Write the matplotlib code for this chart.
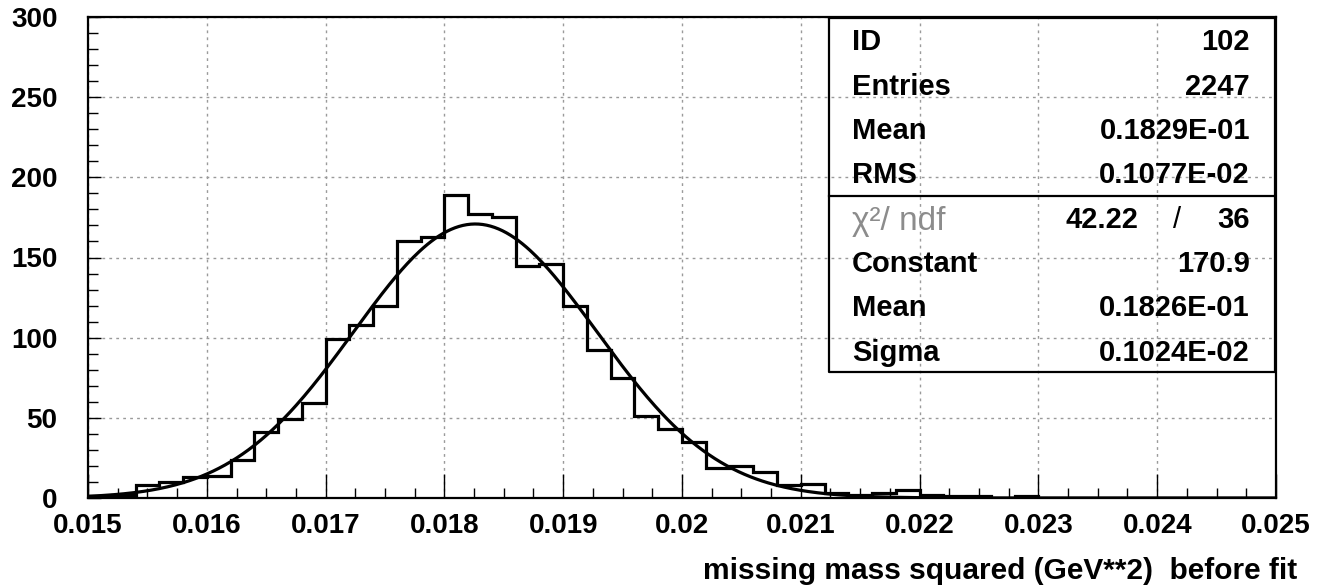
import numpy as np
import matplotlib
matplotlib.use("Agg")
import matplotlib.pyplot as plt
from matplotlib.ticker import MultipleLocator

plt.rcParams["font.family"] = ["Liberation Sans", "DejaVu Sans"]

# histogram: 50 bins of 0.0002 between 0.015 and 0.025
x_min, x_max, n_bins = 0.015, 0.025, 50
counts = [
    1, 2, 8, 10, 13, 14, 24, 41, 49, 59,
    99, 108, 120, 160, 163, 189, 177, 175, 145, 146,
    120, 92, 75, 51, 43, 35, 19, 20, 16, 8,
    9, 3, 2, 3, 5, 2, 1, 1, 0, 1,
    0, 0, 0, 0, 0, 0, 0, 0, 0, 0,
]

# gaussian fit parameters shown in the stats box
fit_const = 170.9
fit_mean = 0.01826
fit_sigma = 0.001024

stat_labels = ["ID", "Entries", "Mean", "RMS"]
stat_values = ["102", "2247", "0.1829E-01", "0.1077E-02"]
chi2_value, ndf_value = "42.22", "36"
fit_labels = ["Constant", "Mean", "Sigma"]
fit_values = ["170.9", "0.1826E-01", "0.1024E-02"]

xlabel = "missing mass squared (GeV**2)  before fit"

FS = 21

W, H = 1322, 586
fig = plt.figure(figsize=(W / 100, H / 100), dpi=100)
ax_l, ax_r, ax_t, ax_b = 88, 1276, 17, 498
ax = fig.add_axes([ax_l / W, 1 - ax_b / H, (ax_r - ax_l) / W, (ax_b - ax_t) / H])

edges = np.linspace(x_min, x_max, n_bins + 1)
ax.stairs(counts, edges, color="black", linewidth=2.3, zorder=3)

xs = np.linspace(x_min, x_max, 600)
ax.plot(xs, fit_const * np.exp(-0.5 * ((xs - fit_mean) / fit_sigma) ** 2),
        color="black", linewidth=2.3, zorder=4)

ax.set_xlim(x_min, x_max)
ax.set_ylim(0, 300)
ax.xaxis.set_major_locator(MultipleLocator(0.001))
ax.xaxis.set_minor_locator(MultipleLocator(0.00025))
ax.yaxis.set_major_locator(MultipleLocator(50))
ax.yaxis.set_minor_locator(MultipleLocator(10))
ax.xaxis.set_major_formatter(plt.FuncFormatter(lambda v, p: f"{v:.3f}".rstrip("0") if v else "0"))

ax.grid(True, which="major", color="#9a9a9a", linestyle=(0, (2, 3)), linewidth=1.0)
ax.set_axisbelow(True)
ax.tick_params(axis="both", which="both", direction="in", top=False, right=False,
               colors="black", labelsize=20)
ax.tick_params(axis="x", which="major", length=17, width=1.0, pad=11)
ax.tick_params(axis="x", which="minor", length=7, width=1.0)
ax.tick_params(axis="y", which="major", length=9, width=1.0, pad=22)
ax.tick_params(axis="y", which="minor", length=7, width=1.0)
for lab in ax.get_xticklabels() + ax.get_yticklabels():
    lab.set_fontweight("bold")
for sp in ax.spines.values():
    sp.set_linewidth(1.6)

fig.text(1297 / W, 1 - 579 / H, xlabel, ha="right", va="baseline",
         fontsize=21.5, fontweight="bold")

# stats box (pixel coords converted to axes fraction)
def fx(px):
    return (px - ax_l) / (ax_r - ax_l)

def fy(py):
    return (ax_b - py) / (ax_b - ax_t)

box_l, box_r, box_t, box_b, box_mid = 829, 1275, 18, 372, 196
ax.plot([fx(box_l), fx(box_r), fx(box_r), fx(box_l), fx(box_l)],
        [fy(box_t), fy(box_t), fy(box_b), fy(box_b), fy(box_t)],
        transform=ax.transAxes, color="black", linewidth=1.6, clip_on=False, zorder=5)
ax.plot([fx(box_l), fx(box_r)], [fy(box_mid), fy(box_mid)],
        transform=ax.transAxes, color="black", linewidth=1.6, clip_on=False, zorder=5)

row0, row_step = 50.5, 44.3
lab_x, val_x = 852, 1250


def put(px, py, s, ha="left", **kw):
    ax.text(fx(px), fy(py), s, transform=ax.transAxes, ha=ha, va="baseline",
            fontsize=kw.pop("fontsize", FS), fontweight=kw.pop("fontweight", "bold"), **kw)


for i, (lab, val) in enumerate(zip(stat_labels, stat_values)):
    put(lab_x, row0 + i * row_step, lab)
    put(val_x, row0 + i * row_step, val, ha="right")

y = row0 + 4 * row_step
put(lab_x, y + 2, "χ²/ ndf", fontsize=FS + 3, fontweight="normal", color="#8c8c8c")
put(1138, y, chi2_value, ha="right")
put(1177, y, "/", ha="center", fontweight="normal")
put(val_x, y, ndf_value, ha="right")

for i, (lab, val) in enumerate(zip(fit_labels, fit_values)):
    put(lab_x, row0 + (5 + i) * row_step, lab)
    put(val_x, row0 + (5 + i) * row_step, val, ha="right")

fig.savefig("out.png", dpi=100)
